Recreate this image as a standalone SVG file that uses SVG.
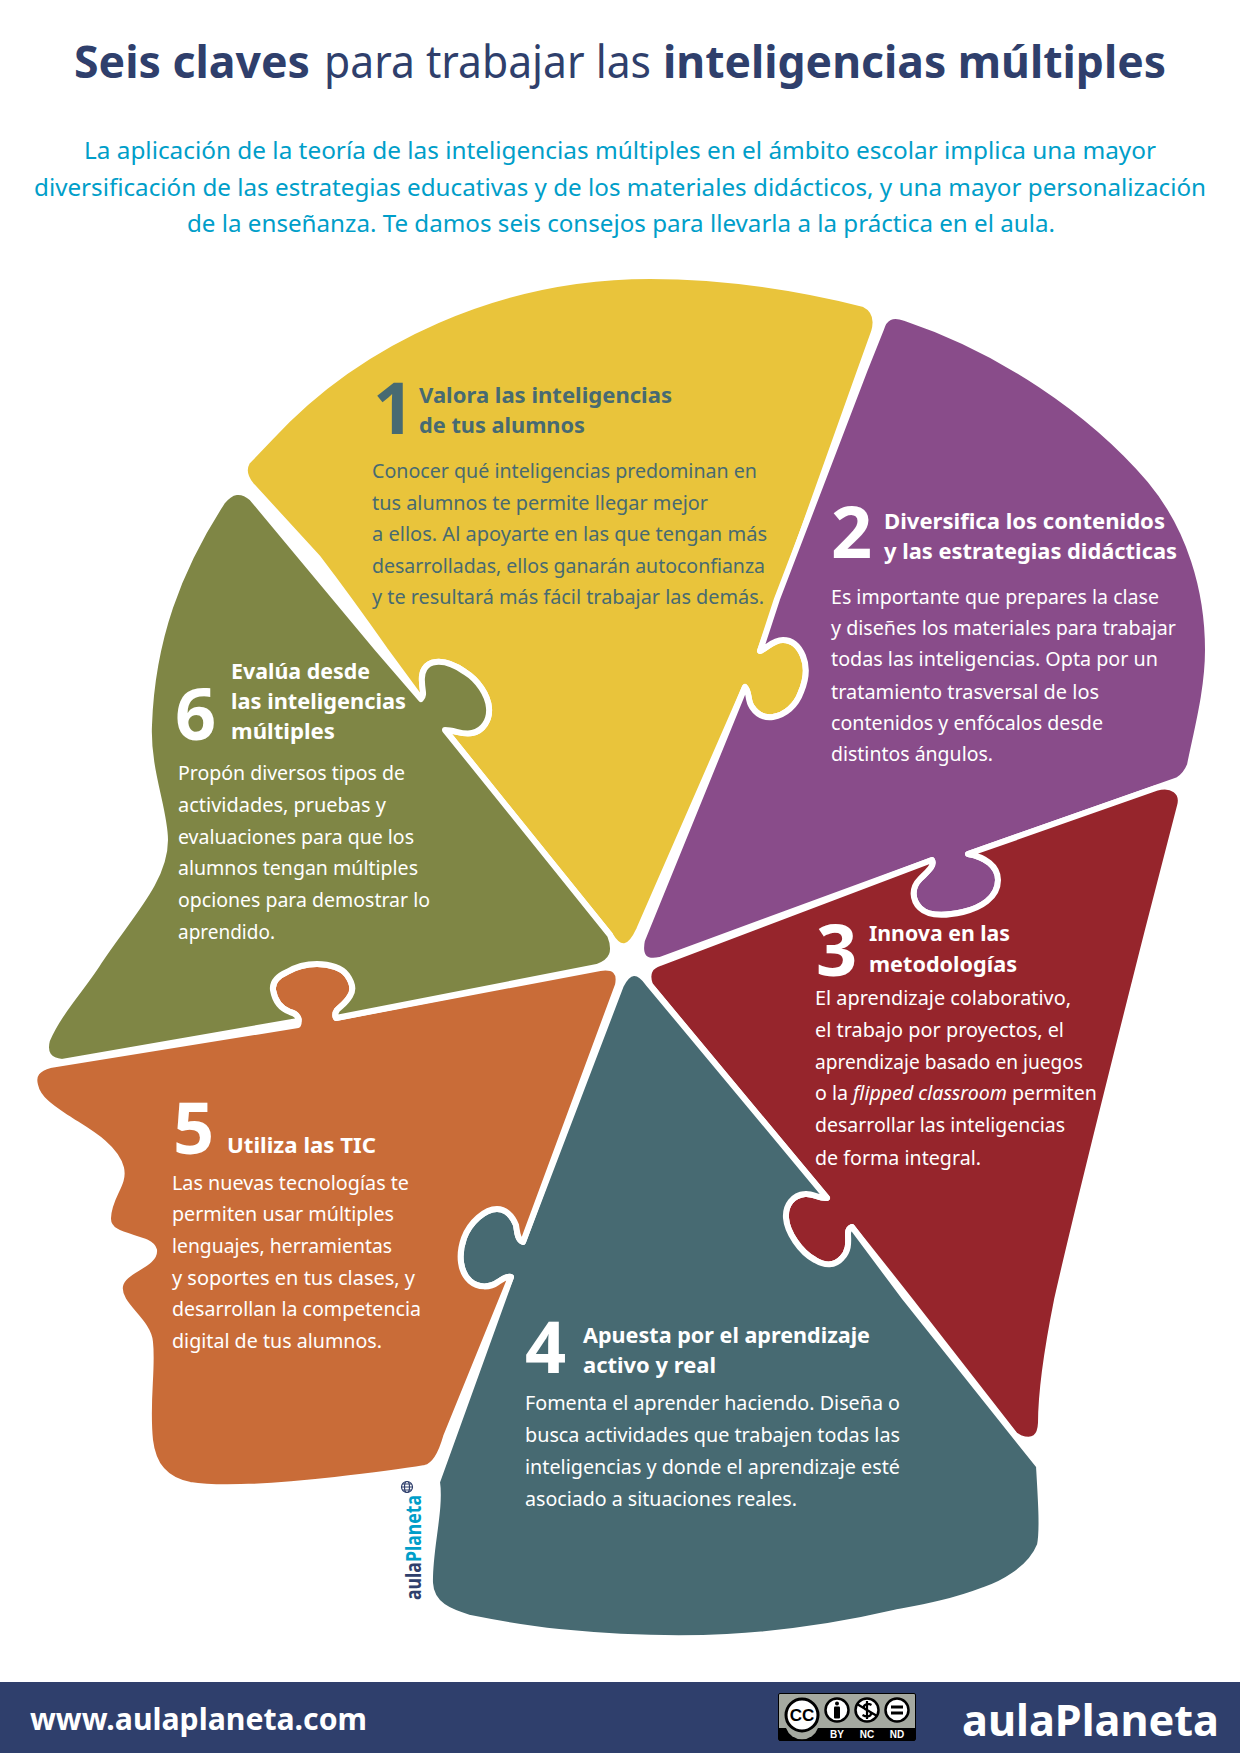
<svg xmlns="http://www.w3.org/2000/svg" width="1240" height="1753" viewBox="0 0 1240 1753">
<style>
text{font-family:"Noto Sans","Open Sans","DejaVu Sans",sans-serif}
.p{stroke:#fff;stroke-width:6;stroke-linejoin:round}
.t{font-size:45px;fill:#2f3f6c;font-weight:700}
.r{font-weight:400}
.s{font-size:24px;fill:#009ec9;text-anchor:start}
.n{font-size:72px;font-weight:700;fill:#fff}
.h{font-size:22px;font-weight:700;fill:#fff}
.b{font-size:20px;fill:#fff}
.k{fill:#476a72}
.cc{font-family:"Liberation Sans",Arial,sans-serif;font-weight:700;font-size:10px;fill:#fff;text-anchor:middle}
</style>
<rect width="1240" height="1753" fill="#fff"/>
<g id="title">
<text class="t" y="78"><tspan x="74" textLength="236" lengthAdjust="spacingAndGlyphs">Seis claves</tspan><tspan class="r" x="324" textLength="327" lengthAdjust="spacingAndGlyphs">para trabajar las</tspan><tspan x="663" textLength="503" lengthAdjust="spacingAndGlyphs">inteligencias múltiples</tspan></text>
</g>
<g id="intro">
<text class="s" x="84" y="159" textLength="1072" lengthAdjust="spacingAndGlyphs">La aplicación de la teoría de las inteligencias múltiples en el ámbito escolar implica una mayor</text>
<text class="s" x="34" y="196" textLength="1172" lengthAdjust="spacingAndGlyphs">diversificación de las estrategias educativas y de los materiales didácticos, y una mayor personalización</text>
<text class="s" x="187" y="232" textLength="868" lengthAdjust="spacingAndGlyphs">de la enseñanza. Te damos seis consejos para llevarla a la práctica en el aula.</text>
</g>
<g id="piece1">
<path class="p" fill="#e9c43b" d="M251,485Q241,473 247,462L270,438C360,340 500,276 650,276C730,276 800,288 864,304Q880,312 874,332L860,371L778,601L760,651C768,648 772,640 783,640C790,640 798,644 803,656C808,668 806,680 801,692C796,706 785,715 773,717C766,718 758,716 752,707C747,700 750,692 745,687L639,930Q625,960 610,935L445,730C455,730 462,735 472,733C483,731 490,720 489,708C488,695 478,680 465,672C455,665 445,661 436,662C425,663 421,672 422,682C422,690 425,695 421,699L385,650Q350,600 318,558Z"/>
<text x="373" y="434" class="n k">1</text>
<text class="h k" x="419" y="403" textLength="253" lengthAdjust="spacingAndGlyphs">Valora las inteligencias</text>
<text class="h k" x="419" y="433" textLength="166" lengthAdjust="spacingAndGlyphs">de tus alumnos</text>
<text class="b k" x="372" y="478" textLength="385" lengthAdjust="spacingAndGlyphs">Conocer qué inteligencias predominan en</text>
<text class="b k" x="372" y="510" textLength="336" lengthAdjust="spacingAndGlyphs">tus alumnos te permite llegar mejor</text>
<text class="b k" x="372" y="541" textLength="395" lengthAdjust="spacingAndGlyphs">a ellos. Al apoyarte en las que tengan más</text>
<text class="b k" x="372" y="573" textLength="393" lengthAdjust="spacingAndGlyphs">desarrolladas, ellos ganarán autoconfianza</text>
<text class="b k" x="372" y="604" textLength="392" lengthAdjust="spacingAndGlyphs">y te resultará más fácil trabajar las demás.</text>
</g>
<g id="piece2">
<path class="p" fill="#894c8a" d="M881,329Q886,311 905,318C1000,350 1090,410 1150,480C1190,528 1208,590 1208,650C1208,690 1197,730 1190,765Q1186,775 1178,780L968,854C985,857 998,866 998,880C998,898 980,908 963,912C945,916 928,916 920,908C912,900 911,888 920,879C927,872 935,866 932,860L660,960Q637,965 642,940L745,687C750,692 747,700 752,707C758,716 766,718 773,717C785,715 796,706 801,692C806,680 808,668 803,656C798,644 790,640 783,640C772,640 768,648 760,651L777,599L865,369Z"/>
<text class="n" x="831" y="558">2</text>
<text class="h" x="884" y="529" textLength="281" lengthAdjust="spacingAndGlyphs">Diversifica los contenidos</text>
<text class="h" x="884" y="559" textLength="293" lengthAdjust="spacingAndGlyphs">y las estrategias didácticas</text>
<text class="b" x="831" y="604" textLength="328" lengthAdjust="spacingAndGlyphs">Es importante que prepares la clase</text>
<text class="b" x="831" y="635" textLength="345" lengthAdjust="spacingAndGlyphs">y diseñes los materiales para trabajar</text>
<text class="b" x="831" y="666" textLength="327" lengthAdjust="spacingAndGlyphs">todas las inteligencias. Opta por un</text>
<text class="b" x="831" y="699" textLength="268" lengthAdjust="spacingAndGlyphs">tratamiento trasversal de los</text>
<text class="b" x="831" y="730" textLength="272" lengthAdjust="spacingAndGlyphs">contenidos y enfócalos desde</text>
<text class="b" x="831" y="761" textLength="162" lengthAdjust="spacingAndGlyphs">distintos ángulos.</text>
</g>
<g id="piece3">
<path class="p" fill="#96252c" d="M660,963L932,860C935,866 927,872 920,879C911,888 912,900 920,908C928,916 945,916 963,912C980,908 998,898 998,880C998,866 985,857 968,854L1156,788C1172,783 1184,792 1180,806L1148,930C1110,1080 1075,1220 1057,1300C1045,1360 1041,1400 1041,1423Q1040,1445 1020,1438L1015,1435L909,1299L852,1227C850,1228 848,1230 848,1233C848,1240 850,1250 842,1258C835,1266 825,1266 815,1260C800,1252 787,1232 786,1218C785,1205 793,1195 805,1194C812,1193 820,1199 827,1198L650,985Q644,968 660,963Z"/>
<text class="n" x="816" y="976">3</text>
<text class="h" x="869" y="941" textLength="141" lengthAdjust="spacingAndGlyphs">Innova en las</text>
<text class="h" x="869" y="972" textLength="148" lengthAdjust="spacingAndGlyphs">metodologías</text>
<text class="b" x="815" y="1005" textLength="256" lengthAdjust="spacingAndGlyphs">El aprendizaje colaborativo,</text>
<text class="b" x="815" y="1037" textLength="249" lengthAdjust="spacingAndGlyphs">el trabajo por proyectos, el</text>
<text class="b" x="815" y="1069" textLength="268" lengthAdjust="spacingAndGlyphs">aprendizaje basado en juegos</text>
<text class="b" x="815" y="1100" style="font-size:19.6px">o la <tspan font-style="italic">flipped classroom</tspan> permiten</text>
<text class="b" x="815" y="1132" textLength="250" lengthAdjust="spacingAndGlyphs">desarrollar las inteligencias</text>
<text class="b" x="815" y="1165" textLength="166" lengthAdjust="spacingAndGlyphs">de forma integral.</text>
</g>
<g id="piece4">
<path class="p" fill="#476a72" d="M621,985Q633,962 648,983L827,1198C820,1199 812,1193 805,1194C793,1195 785,1205 786,1218C787,1232 800,1252 815,1260C825,1266 835,1266 842,1258C850,1250 848,1240 848,1233C848,1230 850,1228 852,1227L905,1298L1039,1466C1041,1500 1043,1530 1040,1545C1030,1570 1000,1585 984,1590C950,1603 920,1608 894,1613C830,1628 780,1634 727,1637C670,1640 610,1637 559,1632C530,1629 500,1624 470,1618C450,1612 431,1605 430,1583C429,1550 441,1510 437,1482L511,1277C506,1276 503,1279 498,1282C490,1288 478,1288 470,1281C460,1272 458,1255 464,1238C470,1222 485,1209 497,1209C505,1209 512,1215 516,1225C517,1230 517,1240 523,1242Z"/>
<text class="n" x="525" y="1373">4</text>
<text class="h" x="583" y="1343" textLength="287" lengthAdjust="spacingAndGlyphs">Apuesta por el aprendizaje</text>
<text class="h" x="583" y="1373" textLength="133" lengthAdjust="spacingAndGlyphs">activo y real</text>
<text class="b" x="525" y="1410" textLength="375" lengthAdjust="spacingAndGlyphs">Fomenta el aprender haciendo. Diseña o</text>
<text class="b" x="525" y="1442" textLength="375" lengthAdjust="spacingAndGlyphs">busca actividades que trabajen todas las</text>
<text class="b" x="525" y="1474" textLength="375" lengthAdjust="spacingAndGlyphs">inteligencias y donde el aprendizaje esté</text>
<text class="b" x="525" y="1506" textLength="272" lengthAdjust="spacingAndGlyphs">asociado a situaciones reales.</text>
</g>
<g id="piece5">
<path class="p" fill="#c96c38" d="M50,1065L298,1025C300,1020 298,1014 290,1012C282,1009 275,1002 273,990C272,982 278,976 287,972C297,966 307,964 317,964C330,964 342,968 347,975C352,982 354,990 350,996C346,1003 341,1006 337,1010C335,1013 335,1016 336,1018L600,968Q622,965 618,985L523,1242C517,1240 517,1230 516,1225C512,1215 505,1209 497,1209C485,1209 470,1222 464,1238C458,1255 460,1272 470,1281C478,1288 490,1288 498,1282C503,1279 506,1276 511,1277L446,1437Q438,1465 425,1468C395,1473 370,1476 335,1480C280,1486 220,1490 190,1485C165,1480 153,1465 150,1440C146,1400 153,1370 150,1342C148,1320 117,1305 120,1286C122,1270 156,1265 154,1250C150,1235 107,1240 108,1218C109,1195 125,1185 121,1168C115,1145 85,1130 67,1118C55,1110 38,1100 35,1085Q31,1070 50,1065Z"/>
<text class="n" x="173" y="1154">5</text>
<text class="h" x="227" y="1153" textLength="149" lengthAdjust="spacingAndGlyphs">Utiliza las TIC</text>
<text class="b" x="172" y="1190" textLength="237" lengthAdjust="spacingAndGlyphs">Las nuevas tecnologías te</text>
<text class="b" x="172" y="1221" textLength="222" lengthAdjust="spacingAndGlyphs">permiten usar múltiples</text>
<text class="b" x="172" y="1253" textLength="220" lengthAdjust="spacingAndGlyphs">lenguajes, herramientas</text>
<text class="b" x="172" y="1285" textLength="243" lengthAdjust="spacingAndGlyphs">y soportes en tus clases, y</text>
<text class="b" x="172" y="1316" textLength="249" lengthAdjust="spacingAndGlyphs">desarrollan la competencia</text>
<text class="b" x="172" y="1348" textLength="210" lengthAdjust="spacingAndGlyphs">digital de tus alumnos.</text>
</g>
<g id="piece6">
<path class="p" fill="#7f8645" d="M222,502Q236,484 252,498L302,558L377,648L421,699C425,695 422,690 422,682C421,672 425,663 436,662C445,661 455,665 465,672C478,680 488,695 489,708C490,720 483,731 472,733C462,735 455,730 445,730L610,935Q620,960 597,967L336,1018C335,1016 335,1013 337,1010C341,1006 346,1003 350,996C354,990 352,982 347,975C342,968 330,964 317,964C307,964 297,966 287,972C278,976 272,982 273,990C275,1002 282,1009 290,1012C298,1014 300,1020 298,1021L62,1062Q42,1060 47,1040C60,1010 85,985 100,960C130,915 165,880 165,840C165,810 147,770 149,725C152,640 178,570 222,502Z"/>
<text class="n" x="175" y="740">6</text>
<text class="h" x="231" y="679" textLength="139" lengthAdjust="spacingAndGlyphs">Evalúa desde</text>
<text class="h" x="231" y="709" textLength="175" lengthAdjust="spacingAndGlyphs">las inteligencias</text>
<text class="h" x="231" y="739" textLength="104" lengthAdjust="spacingAndGlyphs">múltiples</text>
<text class="b" x="178" y="780" textLength="227" lengthAdjust="spacingAndGlyphs">Propón diversos tipos de</text>
<text class="b" x="178" y="812" textLength="208" lengthAdjust="spacingAndGlyphs">actividades, pruebas y</text>
<text class="b" x="178" y="844" textLength="236" lengthAdjust="spacingAndGlyphs">evaluaciones para que los</text>
<text class="b" x="178" y="875" textLength="240" lengthAdjust="spacingAndGlyphs">alumnos tengan múltiples</text>
<text class="b" x="178" y="907" textLength="252" lengthAdjust="spacingAndGlyphs">opciones para demostrar lo</text>
<text class="b" x="178" y="939" textLength="97" lengthAdjust="spacingAndGlyphs">aprendido.</text>
</g>
<g id="side-logo">
<text transform="translate(421,1600) rotate(-90)" font-size="21" font-weight="700" fill="#2f3f6c" textLength="105" lengthAdjust="spacingAndGlyphs">aula<tspan fill="#009ec9">Planeta</tspan></text>
<g fill="none" stroke="#2f3f6c" stroke-width="1.2"><circle cx="407" cy="1487" r="5.5"/><ellipse cx="407" cy="1487" rx="2.5" ry="5.5"/><path d="M401.5,1487H412.5M402.5,1484H411.5M402.5,1490H411.5"/></g>
</g>
<g id="footer">
<rect y="1682" width="1240" height="71" fill="#2f3f6c"/>
<text x="30" y="1730" font-size="30" font-weight="700" fill="#fff" textLength="337" lengthAdjust="spacingAndGlyphs">www.aulaplaneta.com</text>
<text x="962" y="1736" font-size="43" font-weight="700" fill="#fff" textLength="257" lengthAdjust="spacingAndGlyphs">aulaPlaneta</text>
<g id="cc-badge">
<rect x="778.5" y="1693.5" width="137" height="47" rx="1.5" fill="#a5a9a0" stroke="#000"/>
<rect x="779" y="1728" width="136" height="12.5" fill="#000"/>
<path d="M786,1728A17,17 0 0 0 818,1728Z" fill="#a5a9a0"/>
<circle cx="802" cy="1715" r="16" fill="#fff" stroke="#000" stroke-width="3"/>
<text x="802" y="1721" font-size="17" text-anchor="middle" style="font-family:'Liberation Sans',sans-serif;font-weight:700">CC</text>
<circle cx="837" cy="1710" r="11.5" fill="#fff" stroke="#000" stroke-width="2.5"/>
<circle cx="837" cy="1703.5" r="2" fill="#000"/><rect x="834" y="1706.5" width="6" height="12" rx="1" fill="#000"/>
<circle cx="867" cy="1710" r="11.5" fill="#fff" stroke="#000" stroke-width="2.5"/>
<path d="M871.5,1705C867,1702.5 863,1705 864,1708C865,1711 871,1710 871,1713.5C871,1717 866,1717 862.5,1715M867,1701V1719M857,1704L877,1716" fill="none" stroke="#000" stroke-width="2.2"/>
<circle cx="897" cy="1710" r="11.5" fill="#fff" stroke="#000" stroke-width="2.5"/>
<rect x="891" y="1705.5" width="12" height="3" fill="#000"/><rect x="891" y="1711.5" width="12" height="3" fill="#000"/>
<text class="cc" x="837" y="1738">BY</text><text class="cc" x="867" y="1738">NC</text><text class="cc" x="897" y="1738">ND</text>
</g>
</g>
</svg>
